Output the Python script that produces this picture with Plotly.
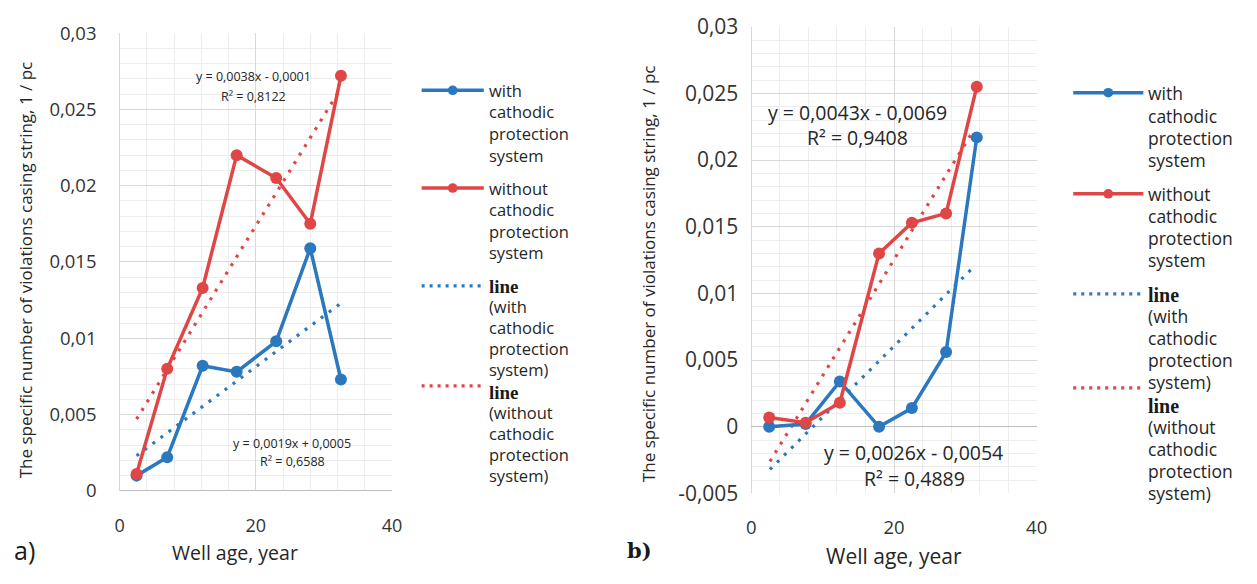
import plotly.graph_objects as go

W, H = 1257, 584

# ---------------- data ----------------
ages_a = [2.5, 7, 12.2, 17.2, 23, 28, 32.5]
with_cp_a = [0.0010, 0.0022, 0.0082, 0.0078, 0.0098, 0.0159, 0.0073]
without_cp_a = [0.0011, 0.0080, 0.0133, 0.0220, 0.0205, 0.0175, 0.0272]
trend_with_a_x = [2.5, 32.5]
trend_with_a_y = [0.0023, 0.0123]
trend_without_a_x = [2.5, 32.5]
trend_without_a_y = [0.0047, 0.0264]

ages_b = [2.5, 7.6, 12.4, 17.9, 22.5, 27.3, 31.6]
with_cp_b = [0.0000, 0.0002, 0.0034, 0.0000, 0.0014, 0.0056, 0.0217]
without_cp_b = [0.0007, 0.0003, 0.0018, 0.0130, 0.0153, 0.0160, 0.0255]
trend_with_b_x = [2.6, 31.2]
trend_with_b_y = [-0.0032, 0.0120]
trend_without_b_x = [2.6, 31.0]
trend_without_b_y = [-0.0026, 0.0221]

x_ticks = [0, 20, 40]
y_ticks_a = [0, 0.005, 0.01, 0.015, 0.02, 0.025, 0.03]
y_labels_a = ["0", "0,005", "0,01", "0,015", "0,02", "0,025", "0,03"]
y_ticks_b = [-0.005, 0, 0.005, 0.01, 0.015, 0.02, 0.025, 0.03]
y_labels_b = ["-0,005", "0", "0,005", "0,01", "0,015", "0,02", "0,025", "0,03"]

eq_a = ["y = 0,0038x - 0,0001", "R² = 0,8122", "y = 0,0019x + 0,0005", "R² = 0,6588"]
eq_b = ["y = 0,0043x - 0,0069", "R² = 0,9408", "y = 0,0026x - 0,0054", "R² = 0,4889"]

legend_entries = [
    ["with", "cathodic", "protection", "system"],
    ["without", "cathodic", "protection", "system"],
    ["line", "(with", "cathodic", "protection", "system)"],
    ["line", "(without", "cathodic", "protection", "system)"],
]
y_title = "The specific number of violations casing string, 1 / pc"
x_title = "Well age, year"

BLUE = "#2b78bf"
RED = "#e04646"
FONT = "Open Sans"
GRID = "#d9d9d9"
MINOR = "#ededed"


def px(x):
    return x / W


def py(y):
    return 1 - y / H


fig = go.Figure()


def add_series(xs, ys, color, xa, ya, name):
    fig.add_trace(go.Scatter(x=xs, y=ys, mode="lines+markers", name=name,
                             line=dict(color=color, width=3.5),
                             marker=dict(color=color, size=12),
                             xaxis=xa, yaxis=ya, showlegend=False, cliponaxis=False))


def add_trend(xs, ys, color, xa, ya, name):
    fig.add_trace(go.Scatter(x=xs, y=ys, mode="lines", name=name,
                             line=dict(color=color, width=3.2, dash="3px,7px"),
                             xaxis=xa, yaxis=ya, showlegend=False, cliponaxis=False))


add_trend(trend_with_a_x, trend_with_a_y, BLUE, "x", "y", "line (with)")
add_trend(trend_without_a_x, trend_without_a_y, RED, "x", "y", "line (without)")
add_series(ages_a, with_cp_a, BLUE, "x", "y", "with cathodic protection system")
add_series(ages_a, without_cp_a, RED, "x", "y", "without cathodic protection system")

add_trend(trend_with_b_x, trend_with_b_y, BLUE, "x2", "y2", "line (with)")
add_trend(trend_without_b_x, trend_without_b_y, RED, "x2", "y2", "line (without)")
add_series(ages_b, with_cp_b, BLUE, "x2", "y2", "with cathodic protection system")
add_series(ages_b, without_cp_b, RED, "x2", "y2", "without cathodic protection system")


def xaxis_cfg(dom, fs, standoff, anchor):
    return dict(domain=dom, range=[0, 40], tickmode="array", tickvals=x_ticks,
                ticktext=[str(v) for v in x_ticks], showgrid=True, gridcolor=GRID,
                gridwidth=1, zeroline=True, zerolinecolor=GRID, zerolinewidth=1,
                minor=dict(tickmode="linear", tick0=0, dtick=4, showgrid=True,
                           gridcolor=MINOR, gridwidth=1),
                ticks="", ticklabelstandoff=standoff, showline=False, anchor=anchor,
                tickfont=dict(family=FONT, size=fs, color="#333333"), fixedrange=True)


def yaxis_cfg(dom, rng, vals, labels, fs, standoff, anchor):
    return dict(domain=dom, range=rng, tickmode="array", tickvals=vals, ticktext=labels,
                showgrid=True, gridcolor=GRID, gridwidth=1, zeroline=True,
                zerolinecolor="#bdbdbd", zerolinewidth=1.3,
                minor=dict(tickmode="linear", tick0=0, dtick=0.001, showgrid=True,
                           gridcolor=MINOR, gridwidth=1),
                ticks="", ticklabelstandoff=standoff, showline=False, anchor=anchor,
                tickfont=dict(family=FONT, size=fs, color="#333333"), fixedrange=True)


fig.update_layout(
    width=W, height=H, margin=dict(l=0, r=0, t=0, b=0),
    paper_bgcolor="white", plot_bgcolor="white", showlegend=False,
    xaxis=xaxis_cfg([px(116), px(392)], 18, 22, "y"),
    yaxis=yaxis_cfg([py(500), py(20)], [0, 0.03], y_ticks_a, y_labels_a, 18.5, 22, "x"),
    xaxis2=xaxis_cfg([px(756), px(1045)], 18.5, 21, "y2"),
    yaxis2=yaxis_cfg([py(502.7), py(13.3)], [-0.005, 0.03], y_ticks_b, y_labels_b, 21, 12, "x2"),
)

ann = []
shapes = []


def text(x, y, s, size, family=FONT, xanchor="center", angle=0, color="#262626"):
    ann.append(dict(x=px(x), y=py(y), xref="paper", yref="paper", text=s, showarrow=False,
                    xanchor=xanchor, yanchor="middle", textangle=angle, borderpad=0,
                    font=dict(family=family, size=size, color=color)))


# equations
text(252, 66, eq_a[0], 12.5)
text(252, 86, eq_a[1], 12.5)
text(291, 450, eq_a[2], 12.5)
text(291, 469, eq_a[3], 12.5)
text(863, 103, eq_b[0], 19.5)
text(863, 130, eq_b[1], 19.5)
text(920, 460, eq_b[2], 19.5)
text(921, 487, eq_b[3], 19.5)

# axis titles
text(21, 268, y_title, 17, angle=-90)
text(652, 272, y_title, 17, angle=-90)
text(233, 565, x_title, 19.5)
text(900, 568, x_title, 21)
text(8, 562, "a)", 25, xanchor="left", color="#1a1a1a")
text(629, 562, "<b>b)</b>", 21, family="DejaVu Serif", xanchor="left", color="#1a1a1a")


# custom legends
def legend(sym_x0, sym_x1, text_x, sym_ys, line_ys, fs):
    styles = [(BLUE, True), (RED, True), (BLUE, False), (RED, False)]
    for (color, mk), sy, lys, lines in zip(styles, sym_ys, line_ys, legend_entries):
        shapes.append(dict(type="line", xref="paper", yref="paper",
                           x0=px(sym_x0), x1=px(sym_x1), y0=py(sy), y1=py(sy),
                           line=dict(color=color, width=3.5 if mk else 3.2,
                                     dash="solid" if mk else "3px,5px")))
        if mk:
            cx = (sym_x0 + sym_x1) / 2
            r = 5
            shapes.append(dict(type="circle", xref="paper", yref="paper",
                               x0=px(cx - r), x1=px(cx + r), y0=py(sy + r), y1=py(sy - r),
                               fillcolor=color, line=dict(color=color, width=0)))
        for ln, ly in zip(lines, lys):
            if ln == "line":
                text(text_x, ly + 1, "<b>line</b>", fs + 2.5, family="Liberation Serif",
                     xanchor="left", color="#1a1a1a")
            else:
                text(text_x, ly, ln, fs, xanchor="left")


legend(422, 485, 489,
       [80, 182.5, 285, 390],
       [[80, 102.5, 125, 148],
        [182.5, 205.5, 228, 250.5],
        [285, 307, 329, 351, 373],
        [396, 418, 440, 462, 484]],
       16.5)
legend(1082, 1153, 1157,
       [82.5, 188.5, 293.5, 392],
       [[83, 106.5, 130, 153.5],
        [188.5, 211.5, 234.5, 258],
        [294, 317, 340, 363, 386],
        [410, 433, 456, 479, 502]],
       17.5)

fig.update_layout(annotations=ann, shapes=shapes)
fig.write_html("out.html")
